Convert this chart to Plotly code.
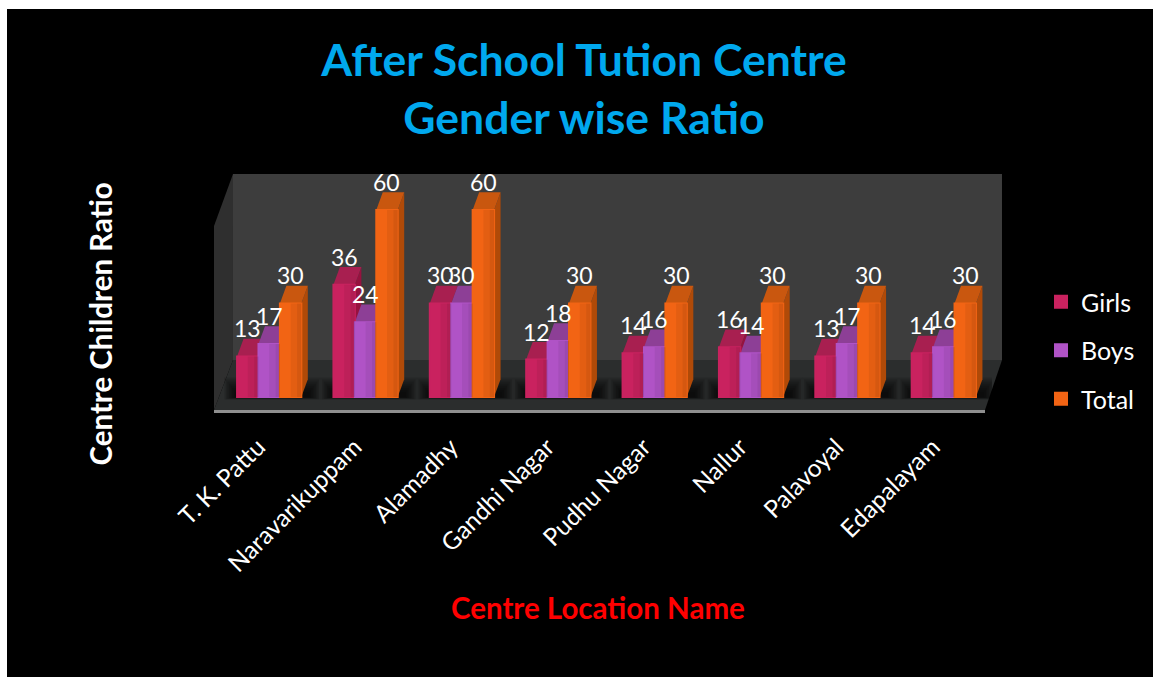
import plotly.graph_objects as go

categories = ["T. K. Pattu", "Naravarikuppam", "Alamadhy", "Gandhi Nagar",
              "Pudhu Nagar", "Nallur", "Palavoyal", "Edapalayam"]
girls = [13, 36, 30, 12, 14, 16, 13, 14]
boys = [17, 24, 30, 18, 16, 14, 17, 16]
total = [30, 60, 60, 30, 30, 30, 30, 30]
series_names = ["Girls", "Boys", "Total"]
front_colors = ["#c9225f", "#b053c6", "#f26414"]
top_colors = ["#a81f50", "#8d3f96", "#c9570f"]
side_colors = ["#96123f", "#7a2f86", "#b04a08"]
FONT = "Lato"

W, H = 1153, 677
PL, PR, PT, PB = 221, 992, 174, 410
PX_PER_UNIT = 3.117
PX_PER_CAT = (PR - PL) / 8
BAR_W = 0.2223
DX = 6.5 / PX_PER_CAT
DY = 17.7 / PX_PER_UNIT


def px(x):
    return (x - PL) / (PR - PL)


def py(y):
    return (PB - y) / (PB - PT)


def paper_poly(points, color):
    path = "M" + " L".join(f"{px(x):.5f},{py(y):.5f}" for x, y in points) + " Z"
    return dict(type="path", xref="paper", yref="paper", path=path, fillcolor=color,
                line=dict(width=0), layer="below")


def data_poly(points, color, layer="below"):
    path = "M" + " L".join(f"{x:.4f},{y:.4f}" for x, y in points) + " Z"
    return dict(type="path", xref="x", yref="y", path=path, fillcolor=color,
                line=dict(width=0), layer=layer)


shapes = [
    paper_poly([(7, 9), (W, 9), (W, H), (7, H)], "#000000"),
    paper_poly([(233, 174), (1002, 174), (1002, 360), (233, 360)], "#3d3d3d"),
    paper_poly([(214, 226), (233, 174), (233, 360), (214, 410)], "#2f2f2f"),
    paper_poly([(214, 410), (233, 360), (1002, 360), (985, 410)], "#2b2d2d"),
    paper_poly([(214, 410), (985, 410), (985, 413), (214, 413)], "#8f8f8f"),
]

series = [girls, boys, total]
annotations = [
    dict(x=px(598), y=py(607), xref="paper", yref="paper", xanchor="center", yanchor="middle",
         text="<b>Centre Location Name</b>", showarrow=False,
         font=dict(family=FONT, size=29.5, color="#ff0000")),
    dict(x=px(100), y=py(324.5), xref="paper", yref="paper", xanchor="center", yanchor="middle",
         text="<b>Centre Children Ratio</b>", textangle=-90, showarrow=False,
         font=dict(family=FONT, size=29.5, color="white")),
]

for i in range(len(categories)):
    left = i - 1.5 * BAR_W
    right = i + 1.5 * BAR_W
    # soft shadow on the floor around each group
    for step in range(8):
        grow = 0.02 + step * 0.016
        shapes.append(data_poly([(left - grow, -grow * 6), (right + grow + DX, -grow * 6),
                                 (right + grow + DX, 1 + grow * 40), (left - grow, 1 + grow * 40)],
                                "rgba(0,0,0,0.13)"))
    for k, values in enumerate(series):
        x0 = left + k * BAR_W
        x1 = x0 + BAR_W
        v = values[i]
        shapes.append(data_poly([(x1, 0), (x1 + DX, DY), (x1 + DX, v + DY), (x1, v)], side_colors[k]))
        shapes.append(data_poly([(x0, v), (x1, v), (x1 + DX, v + DY), (x0 + DX, v + DY)], top_colors[k]))
        # gentle shading across the front face
        shapes.append(data_poly([(x0 + BAR_W * 0.5, 0), (x1, 0), (x1, v), (x0 + BAR_W * 0.5, v)],
                                "rgba(0,0,0,0.06)", layer="above"))
        shapes.append(data_poly([(x0 + BAR_W * 0.8, 0), (x1, 0), (x1, v), (x0 + BAR_W * 0.8, v)],
                                "rgba(0,0,0,0.06)", layer="above"))
        annotations.append(dict(x=(x0 + x1) / 2, y=v, yshift=28, xref="x", yref="y", text=str(v),
                                showarrow=False, font=dict(family=FONT, size=23, color="white")))

fig = go.Figure()
for name, values, color in zip(series_names, series, front_colors):
    fig.add_trace(go.Bar(name=name, x=categories, y=values,
                         marker=dict(color=color, line=dict(width=2, color=color)),
                         legendgroup=name))

fig.update_layout(
    width=W, height=H, autosize=False,
    margin=dict(l=PL, r=W - PR, t=PT, b=H - PB, pad=0),
    paper_bgcolor="white", plot_bgcolor="rgba(0,0,0,0)",
    barmode="group", bargap=1 - 3 * BAR_W, bargroupgap=0,
    title=dict(text="After School Tution Centre<br>Gender wise Ratio", x=584 / W, xanchor="center",
               y=1 - 76 / H, yanchor="top", font=dict(family=FONT, size=44.5, color="#00a8ee", weight="bold")),
    xaxis=dict(type="category", range=[-0.5, 7.5], showgrid=False, zeroline=False, showline=False,
               ticks="outside", ticklen=12, tickcolor="rgba(0,0,0,0)", tickangle=-45,
               tickfont=dict(family=FONT, size=24.5, color="white"), ticklabelshift=-11),
    yaxis=dict(range=[(410 - 397) / -PX_PER_UNIT, (397 - 174) / PX_PER_UNIT], showgrid=False, zeroline=False,
               showline=False, showticklabels=False, ticks=""),
    legend=dict(x=px(1047), xanchor="left", y=py(279), yanchor="top", bgcolor="rgba(0,0,0,0)",
                tracegroupgap=13, indentation=-6, font=dict(family=FONT, size=25, color="white"),
                traceorder="grouped"),
    shapes=shapes, annotations=annotations,
    font=dict(family=FONT),
)

fig.write_html("out.html", config=dict(displayModeBar=False),
               post_script="document.body.style.margin='0';")
